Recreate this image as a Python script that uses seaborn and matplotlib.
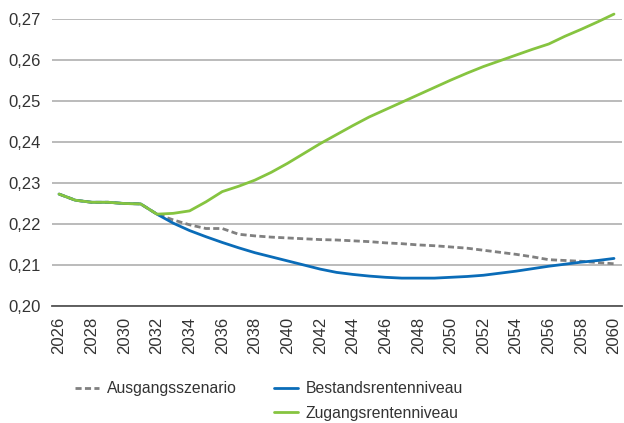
import pandas as pd
import matplotlib
matplotlib.use("Agg")
import matplotlib.pyplot as plt
from matplotlib.lines import Line2D
from matplotlib.ticker import FuncFormatter
import seaborn as sns

# --- DATA ---
YEARS = list(range(2026, 2061))

AUSGANG = [0.2273, 0.2258, 0.2253, 0.2253, 0.2250, 0.2249, 0.2224,
           0.2210, 0.2198, 0.2189, 0.2189, 0.2175, 0.2171, 0.2168, 0.2166,
           0.2164, 0.2162, 0.2161, 0.2159, 0.2157, 0.2154, 0.2152, 0.2149,
           0.2147, 0.2144, 0.2141, 0.2136, 0.2131, 0.2126, 0.2120, 0.2113,
           0.2111, 0.2109, 0.2106, 0.2103]

BESTAND = [0.2273, 0.2258, 0.2253, 0.2253, 0.2250, 0.2249, 0.2224,
           0.2202, 0.2184, 0.2169, 0.2155, 0.2142, 0.2130, 0.2120, 0.2110,
           0.2100, 0.2090, 0.2082, 0.2077, 0.2073, 0.2070, 0.2068, 0.2068,
           0.2068, 0.2070, 0.2072, 0.2075, 0.2080, 0.2085, 0.2091, 0.2097,
           0.2102, 0.2107, 0.2111, 0.2116]

ZUGANG = [0.2273, 0.2258, 0.2253, 0.2253, 0.2250, 0.2249, 0.2224,
          0.2226, 0.2232, 0.2254, 0.2279, 0.2292, 0.2307, 0.2326, 0.2348,
          0.2372, 0.2396, 0.2418, 0.2440, 0.2461, 0.2479, 0.2497, 0.2515,
          0.2533, 0.2551, 0.2568, 0.2584, 0.2598, 0.2612, 0.2626, 0.2639,
          0.2658, 0.2675, 0.2693, 0.2712]

SERIES = ['Ausgangsszenario', 'Bestandsrentenniveau', 'Zugangsrentenniveau']
COLORS = {'Ausgangsszenario': '#808080',
          'Bestandsrentenniveau': '#0a6cb8',
          'Zugangsrentenniveau': '#86c440'}
YTICKS = [0.20, 0.21, 0.22, 0.23, 0.24, 0.25, 0.26, 0.27]
XTICKS = list(range(2026, 2061, 2))

df = pd.concat([
    pd.DataFrame({'Jahr': YEARS, 'Wert': AUSGANG, 'Serie': SERIES[0]}),
    pd.DataFrame({'Jahr': YEARS, 'Wert': BESTAND, 'Serie': SERIES[1]}),
    pd.DataFrame({'Jahr': YEARS, 'Wert': ZUGANG, 'Serie': SERIES[2]}),
], ignore_index=True)

sns.set_theme(style="white")
plt.rcParams['font.family'] = ['Liberation Sans', 'DejaVu Sans']

fig = plt.figure(figsize=(6.24, 4.23), dpi=100)
ax = fig.add_axes([52 / 624, 1 - 306 / 423, 570 / 624, 287 / 423])

sns.lineplot(data=df, x='Jahr', y='Wert', hue='Serie', style='Serie',
             hue_order=SERIES, style_order=SERIES, palette=COLORS,
             dashes={SERIES[0]: (2.2, 1.2), SERIES[1]: '', SERIES[2]: ''},
             linewidth=2.0, legend=False, ax=ax)
for line in ax.lines:
    line.set_clip_on(False)

ax.set_ylim(0.20, 0.27)
ax.set_xlim(2025.57, 2060.49)
ax.set_yticks(YTICKS)
ax.set_xticks(XTICKS)
ax.yaxis.set_major_formatter(FuncFormatter(lambda v, p: f"{v:.2f}".replace('.', ',')))
ax.tick_params(axis='x', rotation=90, labelsize=12, colors='#333333', length=0, pad=8)
ax.tick_params(axis='y', labelsize=12, colors='#333333', length=0, pad=8)
ax.grid(axis='y', color='#b5b5b5', linewidth=1.3)
ax.set_axisbelow(True)
ax.set_xlabel('')
ax.set_ylabel('')
for side in ['top', 'right', 'left']:
    ax.spines[side].set_visible(False)
ax.spines['bottom'].set_color('#555555')
ax.spines['bottom'].set_linewidth(1.3)

handles = [
    Line2D([], [], color=COLORS[SERIES[0]], lw=2.0, dashes=(2.2, 1.2)),
    Line2D([], [], color='none'),
    Line2D([], [], color=COLORS[SERIES[1]], lw=2.0),
    Line2D([], [], color=COLORS[SERIES[2]], lw=2.0),
]
labels = [SERIES[0], '', SERIES[1], SERIES[2]]
fig.legend(handles, labels, ncol=2, frameon=False, fontsize=11.3,
           loc='upper left', bbox_to_anchor=(61 / 624, 1 - 367 / 423),
           handlelength=1.5, handletextpad=0.5, columnspacing=2.4,
           labelspacing=0.6, labelcolor='#333333')

fig.savefig('out.png', dpi=100)
